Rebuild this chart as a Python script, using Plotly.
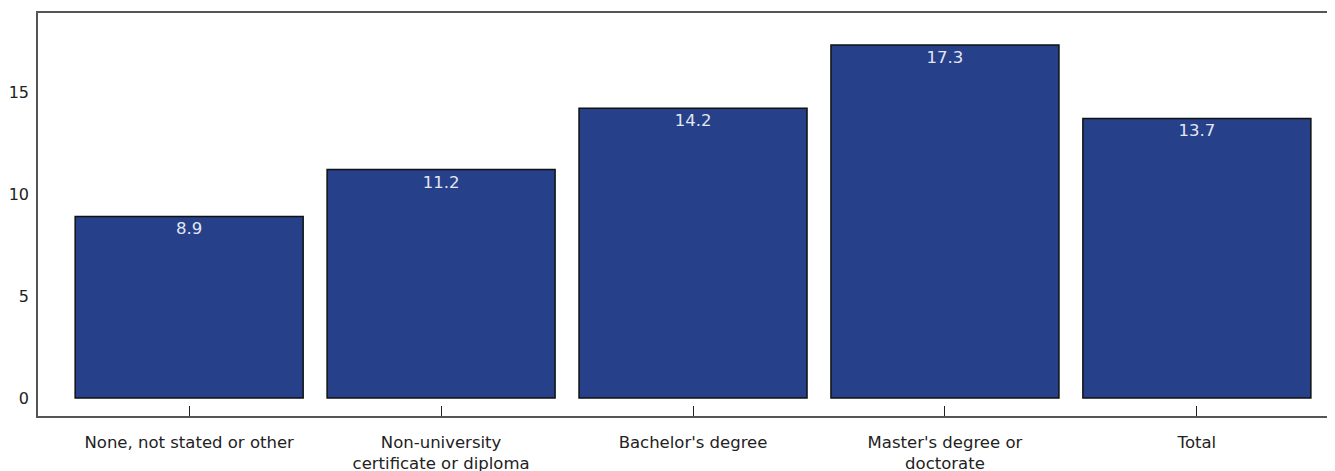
import plotly.graph_objects as go

categories = [
    "None, not stated or other",
    "Non-university<br>certificate or diploma",
    "Bachelor's degree",
    "Master's degree or<br>doctorate",
    "Total",
]
values = [8.9, 11.2, 14.2, 17.3, 13.7]
value_labels = ["8.9", "11.2", "14.2", "17.3", "13.7"]
y_ticks = [0, 5, 10, 15]

fig = go.Figure(
    go.Bar(
        x=categories,
        y=values,
        text=value_labels,
        textposition="inside",
        insidetextanchor="end",
        textangle=0,
        textfont=dict(family="DejaVu Sans", size=16.5, color="#e4e6f2"),
        marker=dict(color="#26408a", line=dict(color="#111111", width=1.5)),
        width=0.905,
        hoverinfo="skip",
    )
)

fig.update_layout(
    width=1335,
    height=471,
    margin=dict(l=30, r=0, t=5, b=63),
    paper_bgcolor="white",
    plot_bgcolor="white",
    showlegend=False,
    font=dict(family="DejaVu Sans", size=16, color="#222222"),
)

fig.update_xaxes(
    type="category",
    range=[-0.6, 4.58],
    showline=True,
    linecolor="#555555",
    linewidth=1.5,
    mirror=True,
    ticks="inside",
    ticklen=10,
    tickcolor="#222222",
    tickwidth=1.2,
    showgrid=False,
    ticklabelstandoff=10,
    tickfont=dict(family="DejaVu Sans", size=16.5, color="#222222"),
)

fig.update_yaxes(
    range=[-0.88, 18.87],
    tickvals=y_ticks,
    ticktext=[str(v) for v in y_ticks],
    showline=True,
    linecolor="#555555",
    linewidth=1.5,
    ticks="",
    showgrid=False,
    zeroline=False,
    ticklabelstandoff=4,
    tickfont=dict(family="DejaVu Sans", size=16, color="#222222"),
)

fig.write_html("out.html")
